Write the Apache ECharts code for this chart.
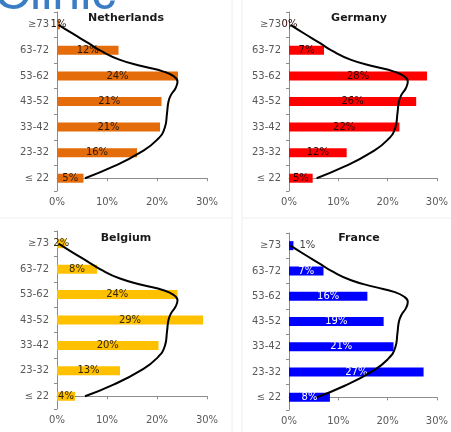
<!DOCTYPE html>
<html>
<head>
<meta charset="utf-8">
<script src="https://cdn.jsdelivr.net/npm/echarts@6/dist/echarts.min.js"></script>
<style>
html,body{margin:0;padding:0;background:#fff;}
#chart{width:451px;height:432px;}
</style>
</head>
<body>
<div id="chart"></div>
<script>
// Age groups (bottom to top)
var ageGroups = ['≤ 22', '23-32', '33-42', '43-52', '53-62', '63-72', '≥73'];
var xTicks = [0, 10, 20, 30];

// Share of each age group (%) per country, bottom to top
var netherlands = [5.3, 16.0, 20.6, 20.9, 24.2, 12.3, 0.6];
var germany     = [4.8, 11.7, 22.4, 25.8, 28.0, 7.1, 0.2];
var belgium     = [3.6, 12.6, 20.3, 29.2, 24.1, 8.0, 1.7];
var france      = [8.3, 27.3, 21.2, 19.2, 15.9, 7.0, 0.9];

var labelsNL = ['5%', '16%', '21%', '21%', '24%', '12%', '1%'];
var labelsDE = ['5%', '12%', '22%', '26%', '28%', '7%', '0%'];
var labelsBE = ['4%', '13%', '20%', '29%', '24%', '8%', '2%'];
var labelsFR = ['8%', '27%', '21%', '19%', '16%', '7%', '1%'];

// Reference curve (same in every panel): position on age axis (0 = ≤22 ... 6 = ≥73), value in %
var curveAge = [0.0, 0.46, 1.0, 1.5, 2.0, 2.54, 3.0, 3.26, 3.52, 3.78, 3.99, 4.17, 4.37, 4.63, 5.0, 5.28, 5.67, 6.0];
var curvePct = [5.6, 11.3, 16.6, 20.0, 21.6, 22.0, 22.3, 22.8, 23.7, 24.1, 23.3, 21.3, 17.3, 12.6, 8.6, 6.3, 3.0, 0.3];

var panels = [
  {name: 'Netherlands', values: netherlands, labels: labelsNL, color: '#E46C0A', labelColor: '#2a1a0a',
   grid: {left: 57, top: 12, width: 150, height: 179}, tx: 121, ty: 8},
  {name: 'Germany', values: germany, labels: labelsDE, color: '#FF0000', labelColor: '#2a0000',
   grid: {left: 289, top: 12, width: 151, height: 179}, tx: 354, ty: 8},
  {name: 'Belgium', values: belgium, labels: labelsBE, color: '#FFC000', labelColor: '#332600',
   grid: {left: 57, top: 231, width: 150, height: 178}, tx: 121, ty: 228},
  {name: 'France', values: france, labels: labelsFR, color: '#0000FF', labelColor: '#ffffff',
   grid: {left: 289, top: 233, width: 151, height: 177}, tx: 354, ty: 228}
];

var font = 'DejaVu Sans';
var grids = [], xAxes = [], yAxes = [], series = [], titles = [];

panels.forEach(function (p, i) {
  grids.push(p.grid);
  titles.push({
    text: p.name, left: p.tx, top: p.ty, textAlign: 'center',
    textStyle: {fontFamily: font, fontSize: 11, fontWeight: 'bold', color: '#1a1a1a'}
  });
  xAxes.push({
    type: 'value', gridIndex: i, min: xTicks[0], max: xTicks[xTicks.length - 1], interval: 10,
    splitLine: {show: false},
    axisLine: {show: true, lineStyle: {color: '#8c8c8c', width: 1}},
    axisTick: {show: true, length: 3, lineStyle: {color: '#8c8c8c'}},
    axisLabel: {formatter: '{value}%', fontFamily: font, fontSize: 10, color: '#595959', margin: 6}
  });
  // category axis for bars
  yAxes.push({
    type: 'category', gridIndex: i, data: ageGroups,
    axisLine: {show: true, lineStyle: {color: '#8c8c8c', width: 1}},
    axisTick: {show: true, length: 3, lineStyle: {color: '#8c8c8c'}},
    axisLabel: {fontFamily: font, fontSize: 10, color: '#595959', margin: 8}
  });
  // hidden value axis for the curve, aligned with category centres
  yAxes.push({
    type: 'value', gridIndex: i, min: -0.5, max: 6.5, show: false
  });

  var barData = p.values.map(function (v, k) {
    var item = {value: v};
    if (p.name === 'France' && k === 6) {
      item.label = {position: 'right', color: '#404040', distance: 6};
    }
    return item;
  });
  series.push({
    type: 'bar', xAxisIndex: i, yAxisIndex: i * 2, data: barData,
    barWidth: 9, itemStyle: {color: p.color},
    label: {
      show: true, position: 'inside', fontFamily: font, fontSize: 10, color: p.labelColor,
      formatter: function (prm) { return p.labels[prm.dataIndex]; }
    },
    z: 2
  });
  series.push({
    type: 'line', xAxisIndex: i, yAxisIndex: i * 2 + 1,
    data: curveAge.map(function (a, k) { return [curvePct[k], a]; }),
    smooth: true, symbol: 'none',
    lineStyle: {color: '#000000', width: 2},
    z: 5, silent: true
  });
});

var chart = echarts.init(document.getElementById('chart'), null, {renderer: 'canvas'});
chart.setOption({
  animation: false,
  backgroundColor: '#ffffff',
  title: titles,
  grid: grids,
  xAxis: xAxes,
  yAxis: yAxes,
  series: series,
  graphic: [
    {type: 'line', shape: {x1: 232, y1: 0, x2: 232, y2: 432}, style: {stroke: '#eeeeee', lineWidth: 1}, z: -1},
    {type: 'line', shape: {x1: 242, y1: 0, x2: 242, y2: 432}, style: {stroke: '#eeeeee', lineWidth: 1}, z: -1},
    {type: 'line', shape: {x1: 0, y1: 218, x2: 232, y2: 218}, style: {stroke: '#eeeeee', lineWidth: 1}, z: -1},
    {type: 'line', shape: {x1: 242, y1: 218, x2: 451, y2: 218}, style: {stroke: '#eeeeee', lineWidth: 1}, z: -1},
    {type: 'text', left: -6, top: -30,
     style: {text: 'Clinic', fontFamily: 'Liberation Sans', fontSize: 50, fill: '#3b7dc4'}, z: 10}
  ]
});
</script>
</body>
</html>
